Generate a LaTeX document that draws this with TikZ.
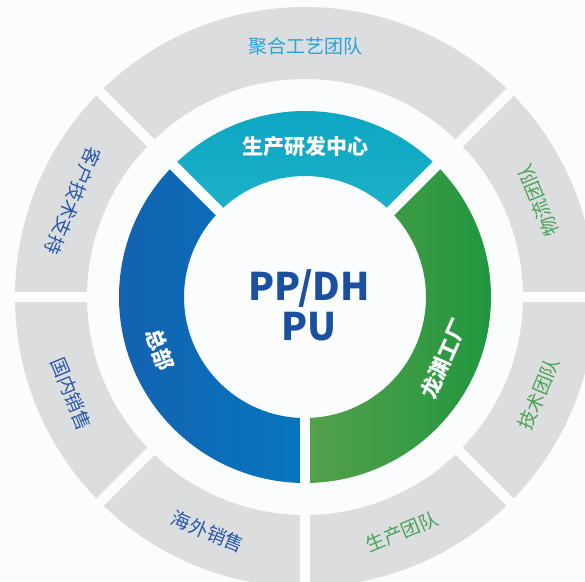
\documentclass[tikz,border=0pt]{standalone}
\usepackage{fontspec}
\newfontfamily\cjk{Noto Sans CJK SC}
\usepackage{xcolor}
\definecolor{bgwhite}{HTML}{FBFCFE}
\definecolor{ringgray}{HTML}{DCDDDF}
\definecolor{tealA}{HTML}{1DB1C8}
\definecolor{tealB}{HTML}{0AA4C3}
\definecolor{blueA}{HTML}{1560AF}
\definecolor{blueB}{HTML}{0676BE}
\definecolor{greenA}{HTML}{56A04B}
\definecolor{greenB}{HTML}{21973F}
\definecolor{hubblue}{HTML}{1B4F9F}
\definecolor{lblteal}{HTML}{2BA3D2}
\definecolor{lblblue}{HTML}{2858A8}
\definecolor{lblgreen}{HTML}{4AA356}
\tikzset{
  gapline/.style={draw=bgwhite, line width=10.5pt},
  outerlbl/.style={font=\cjk\fontsize{19}{19}\selectfont, inner sep=0pt},
  innerlbl/.style={font=\cjk\bfseries\fontsize{21}{21}\selectfont, text=white, inner sep=0pt},
  hublbl/.style={font=\cjk\bfseries\fontsize{38}{40}\selectfont, text=hubblue, align=center, inner sep=0pt}
}

\begin{document}
\begin{tikzpicture}[x=1pt, y=1pt]
\fill[bgwhite] (-305,-284) rectangle (280,297);
\useasboundingbox (-305,-284) rectangle (280,297);

% outer ring
\fill[ringgray, even odd rule] (0,0) circle[radius=290] (0,0) circle[radius=218];
\draw[gapline] (0:212) -- (0:300);
\draw[gapline] (45:212) -- (45:300);
\draw[gapline] (135:212) -- (135:300);
\draw[gapline] (180:212) -- (180:300);
\draw[gapline] (225:212) -- (225:300);
\draw[gapline] (270:212) -- (270:300);
\draw[gapline] (315:212) -- (315:300);

% inner ring
\shade[top color=tealB, bottom color=tealA] (45:186) arc[start angle=45, end angle=135, radius=186] -- (135:121) arc[start angle=135, end angle=45, radius=121] -- cycle;
\shade[left color=blueA, right color=blueB] (135:186) arc[start angle=135, end angle=270, radius=186] -- (270:121) arc[start angle=270, end angle=135, radius=121] -- cycle;
\shade[left color=greenA, right color=greenB] (-90:186) arc[start angle=-90, end angle=45, radius=186] -- (45:121) arc[start angle=45, end angle=-90, radius=121] -- cycle;
\draw[gapline] (45:115) -- (45:195);
\draw[gapline] (135:115) -- (135:195);
\draw[gapline] (270:115) -- (270:195);

\node[hublbl] (hub) at (4,-8) {PP/DH\\PU};

\node[innerlbl] (rd) at (90:150) {生产研发中心};
\node[innerlbl, rotate=290] (hq) at (200:154) {总部};
\node[innerlbl, rotate=66] (plant) at (336:152) {龙渊工厂};

\node[outerlbl, text=lblteal] (poly) at (90:251) {聚合工艺团队};
\node[outerlbl, text=lblblue, rotate=247.5] (cts) at (157.5:251) {客户技术支持};
\node[outerlbl, text=lblblue, rotate=292.5] (dom) at (202.5:253) {国内销售};
\node[outerlbl, text=lblblue, rotate=337.5] (ovs) at (247.5:254) {海外销售};
\node[outerlbl, text=lblgreen, rotate=22.5] (prod) at (292.5:254) {生产团队};
\node[outerlbl, text=lblgreen, rotate=67.5] (tech) at (337.5:253) {技术团队};
\node[outerlbl, text=lblgreen, rotate=112.5] (logi) at (22.5:252) {物流团队};
\end{tikzpicture}
\end{document}
